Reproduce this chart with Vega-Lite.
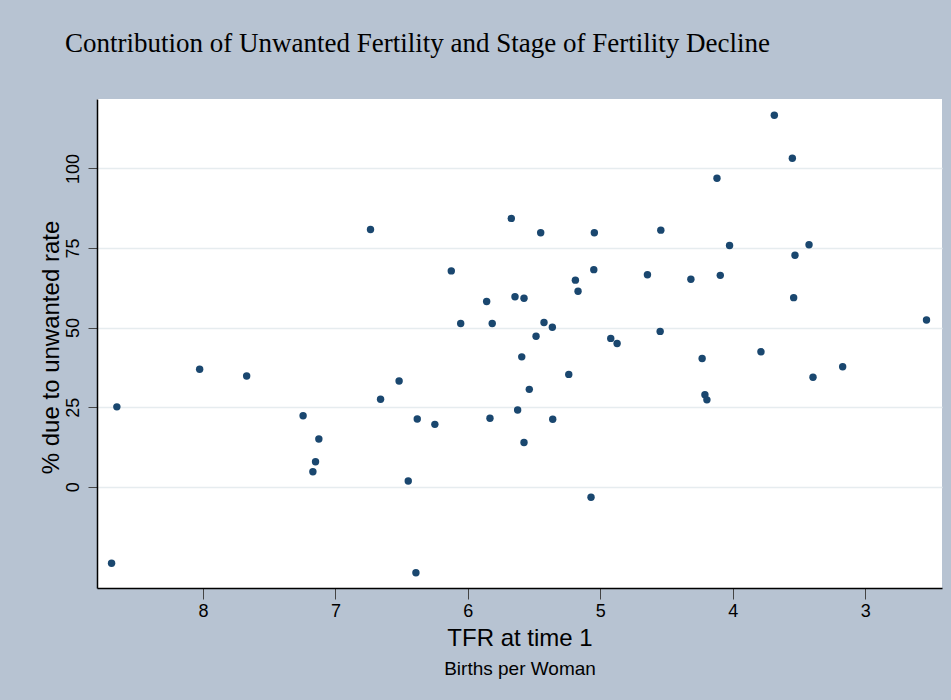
{
  "$schema": "https://vega.github.io/schema/vega-lite/v6.json",
  "autosize": "none",
  "width": 845,
  "height": 489,
  "padding": {"left": 97, "top": 99, "right": 9, "bottom": 112},
  "background": "#b7c3d2",
  "config": {"view": {"stroke": null, "fill": "#ffffff"}},
  "title": {
    "text": "Contribution of Unwanted Fertility and Stage of Fertility Decline",
    "anchor": "start",
    "frame": "group",
    "dx": -32,
    "offset": 20,
    "baseline": "alphabetic",
    "font": "Liberation Serif",
    "fontSize": 27,
    "fontWeight": "normal",
    "color": "#000000"
  },
  "data": {
    "values": [
      {"tfr": 8.69, "pct": -24.0},
      {"tfr": 8.65, "pct": 25.1},
      {"tfr": 8.025, "pct": 36.9},
      {"tfr": 7.67, "pct": 34.8},
      {"tfr": 7.244, "pct": 22.3},
      {"tfr": 7.125, "pct": 15.0},
      {"tfr": 7.15, "pct": 7.85},
      {"tfr": 7.17, "pct": 4.7},
      {"tfr": 6.735, "pct": 80.8},
      {"tfr": 6.659, "pct": 27.5},
      {"tfr": 6.519, "pct": 33.2},
      {"tfr": 6.45, "pct": 1.8},
      {"tfr": 6.392, "pct": -27.0},
      {"tfr": 6.382, "pct": 21.3},
      {"tfr": 6.249, "pct": 19.6},
      {"tfr": 6.125, "pct": 67.8},
      {"tfr": 6.054, "pct": 51.3},
      {"tfr": 5.858, "pct": 58.2},
      {"tfr": 5.816, "pct": 51.3},
      {"tfr": 5.833, "pct": 21.5},
      {"tfr": 5.672, "pct": 84.3},
      {"tfr": 5.644, "pct": 59.7},
      {"tfr": 5.576, "pct": 59.2},
      {"tfr": 5.593, "pct": 40.8},
      {"tfr": 5.624, "pct": 24.1},
      {"tfr": 5.576, "pct": 13.9},
      {"tfr": 5.536, "pct": 30.6},
      {"tfr": 5.485, "pct": 47.3},
      {"tfr": 5.45, "pct": 79.8},
      {"tfr": 5.425, "pct": 51.6},
      {"tfr": 5.362, "pct": 50.1},
      {"tfr": 5.359, "pct": 21.2},
      {"tfr": 5.238, "pct": 35.3},
      {"tfr": 5.188, "pct": 64.9},
      {"tfr": 5.168, "pct": 61.4},
      {"tfr": 5.07, "pct": -3.3},
      {"tfr": 5.045, "pct": 79.8},
      {"tfr": 5.049, "pct": 68.2},
      {"tfr": 4.921, "pct": 46.6},
      {"tfr": 4.873, "pct": 45.0},
      {"tfr": 4.644, "pct": 66.6},
      {"tfr": 4.543, "pct": 80.6},
      {"tfr": 4.548, "pct": 48.8},
      {"tfr": 4.316, "pct": 65.2},
      {"tfr": 4.231, "pct": 40.3},
      {"tfr": 4.21, "pct": 28.9},
      {"tfr": 4.195, "pct": 27.3},
      {"tfr": 4.119, "pct": 96.9},
      {"tfr": 4.094, "pct": 66.4},
      {"tfr": 4.024, "pct": 75.8},
      {"tfr": 3.787, "pct": 42.4},
      {"tfr": 3.686, "pct": 116.7},
      {"tfr": 3.55, "pct": 103.2},
      {"tfr": 3.54, "pct": 59.4},
      {"tfr": 3.53, "pct": 72.7},
      {"tfr": 3.424, "pct": 76.0},
      {"tfr": 3.394, "pct": 34.4},
      {"tfr": 3.17, "pct": 37.7},
      {"tfr": 2.537, "pct": 52.4}
    ]
  },
  "layer": [
    {
      "mark": {"type": "point", "filled": true, "shape": "circle", "size": 55, "color": "#1a476f", "opacity": 1},
      "encoding": {
        "x": {
          "field": "tfr",
          "type": "quantitative",
          "scale": {"domain": [2.42, 8.80], "reverse": true, "nice": false, "zero": false},
          "axis": {
            "values": [3, 4, 5, 6, 7, 8],
            "title": "TFR at time 1",
            "titleFont": "Liberation Sans",
            "titleFontSize": 24,
            "titleFontWeight": "normal",
            "titleColor": "#000000",
            "titleBaseline": "alphabetic",
            "titleY": 57,
            "labelFont": "Liberation Sans",
            "labelFontSize": 18,
            "labelColor": "#000000",
            "labelPadding": 3,
            "labelFlush": false,
            "tickSize": 11,
            "tickColor": "#444444",
            "tickWidth": 1,
            "domainColor": "#000000",
            "domainWidth": 1.5,
            "grid": false
          }
        },
        "y": {
          "field": "pct",
          "type": "quantitative",
          "scale": {"domain": [-31.8, 121.8], "nice": false, "zero": false},
          "axis": {
            "values": [0, 25, 50, 75, 100],
            "title": "% due to unwanted rate",
            "titleFont": "Liberation Sans",
            "titleFontSize": 24,
            "titleFontWeight": "normal",
            "titleColor": "#000000",
            "titleAngle": -90,
            "titleBaseline": "alphabetic",
            "titleAlign": "center",
            "titleX": -39,
            "titleY": 248,
            "labelFont": "Liberation Sans",
            "labelFontSize": 18,
            "labelColor": "#000000",
            "labelAngle": -90,
            "labelAlign": "center",
            "labelBaseline": "bottom",
            "labelPadding": 6,
            "tickSize": 9,
            "tickColor": "#444444",
            "tickWidth": 1,
            "domainColor": "#000000",
            "domainWidth": 1.5,
            "grid": true,
            "gridColor": "#e6ecef",
            "gridWidth": 1.5
          }
        }
      }
    },
    {
      "mark": {"type": "point", "opacity": 0},
      "encoding": {
        "x": {
          "field": "tfr",
          "type": "quantitative",
          "scale": {"domain": [2.42, 8.80], "reverse": true, "nice": false, "zero": false},
          "axis": {
            "orient": "bottom",
            "title": "Births per Woman",
            "titleFont": "Liberation Sans",
            "titleFontSize": 19,
            "titleFontWeight": "normal",
            "titleColor": "#000000",
            "titleBaseline": "alphabetic",
            "titleY": 86,
            "labels": false,
            "ticks": false,
            "domain": false,
            "grid": false
          }
        }
      }
    }
  ],
  "resolve": {"axis": {"x": "independent"}}
}
